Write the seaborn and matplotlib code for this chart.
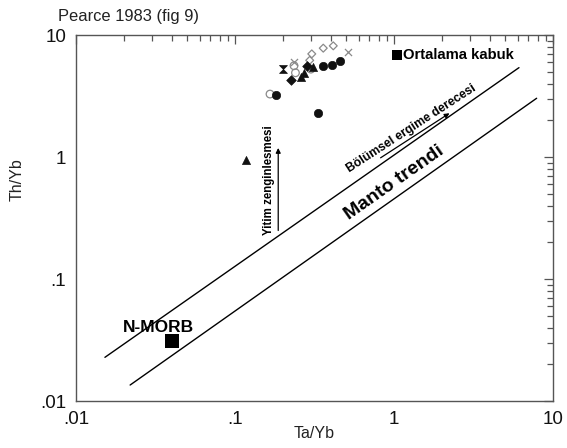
import matplotlib
matplotlib.use("Agg")
import matplotlib.pyplot as plt
import seaborn as sns
import numpy as np
from matplotlib.ticker import FixedLocator, FixedFormatter, LogLocator, NullFormatter

# ---------------- data ----------------
tick_values = [0.01, 0.1, 1, 10]
tick_labels = [".01", ".1", "1", "10"]

filled_circle_x = [0.181, 0.334, 0.357, 0.405, 0.46]
filled_circle_y = [3.2, 2.28, 5.6, 5.7, 6.1]

open_circle_x = [0.166, 0.235, 0.30, 0.24]
open_circle_y = [3.28, 5.6, 5.25, 4.9]

open_diamond_x = [0.304, 0.359, 0.415, 0.295]
open_diamond_y = [7.0, 7.8, 8.15, 6.2]

cross_x = [0.235, 0.516]
cross_y = [6.05, 7.3]

filled_triangle_x = [0.117, 0.259, 0.273, 0.31]
filled_triangle_y = [0.94, 4.55, 4.85, 5.5]

filled_diamond_x = [0.224, 0.284]
filled_diamond_y = [4.3, 5.6]

hourglass_x = [0.20]
hourglass_y = [5.3]

nmorb_x = [0.040]
nmorb_y = [0.031]

crust_x = [1.04]
crust_y = [6.85]

upper_line_x = [0.0152, 6.11]
upper_line_y = [0.0228, 5.40]
lower_line_x = [0.0219, 7.89]
lower_line_y = [0.01352, 3.03]

# ---------------- figure ----------------
sns.set_style("white")
plt.rcParams['font.family'] = ['Liberation Sans', 'DejaVu Sans']
plt.rcParams['text.color'] = 'black'

fig = plt.figure(figsize=(5.67, 4.48), dpi=100)
ax = fig.add_axes([76/567, 47/448, 477/567, 366/448])
ax.set_xscale("log")
ax.set_yscale("log")
ax.set_xlim(0.01, 10)
ax.set_ylim(0.01, 10)

# lines
sns.lineplot(x=upper_line_x, y=upper_line_y, ax=ax, color="black", lw=1.0, sort=False)
sns.lineplot(x=lower_line_x, y=lower_line_y, ax=ax, color="black", lw=1.0, sort=False)

# points
blk = "#111111"
gry = "#8a8a8a"
sns.scatterplot(x=filled_circle_x, y=filled_circle_y, ax=ax, marker="o", s=36,
                color=blk, edgecolor=blk, linewidth=0.5, zorder=5)
sns.scatterplot(x=open_circle_x, y=open_circle_y, ax=ax, marker="o", s=30,
                facecolor="none", edgecolor=gry, linewidth=0.9, zorder=4)
sns.scatterplot(x=open_diamond_x, y=open_diamond_y, ax=ax, marker="D", s=16,
                facecolor="none", edgecolor=gry, linewidth=0.9, zorder=4)
sns.scatterplot(x=cross_x, y=cross_y, ax=ax, marker="x", s=26,
                color=gry, linewidth=0.9, zorder=4)
sns.scatterplot(x=filled_triangle_x, y=filled_triangle_y, ax=ax, marker="^", s=34,
                color=blk, edgecolor=blk, linewidth=0.5, zorder=5)
sns.scatterplot(x=filled_diamond_x, y=filled_diamond_y, ax=ax, marker="D", s=24,
                color=blk, edgecolor=blk, linewidth=0.5, zorder=5)
hg = [(-1, 1), (1, 1), (-1, -1), (1, -1), (-1, 1)]
sns.scatterplot(x=hourglass_x, y=hourglass_y, ax=ax, marker=hg, s=32,
                color=blk, edgecolor=blk, linewidth=0.5, zorder=5)
sns.scatterplot(x=nmorb_x, y=nmorb_y, ax=ax, marker="s", s=95,
                color="black", edgecolor="black", linewidth=0, zorder=6)
sns.scatterplot(x=crust_x, y=crust_y, ax=ax, marker="s", s=60,
                color="black", edgecolor="black", linewidth=0, zorder=6)

# annotations
ax.text(0.033, 0.040, "N-MORB", ha="center", va="center", fontsize=12.5,
        fontweight="bold", color="black")
ax.text(1.14, 6.85, "Ortalama kabuk", ha="left", va="center", fontsize=10.7,
        fontweight="bold", color="black")
ax.text(0.164, 0.647, "Yitim zenginlesmesi", ha="center", va="center",
        rotation=90, fontsize=8.3, fontweight="bold", color="black")
ax.annotate("", xy=(0.187, 1.25), xytext=(0.187, 0.237),
            arrowprops=dict(arrowstyle="-|>", color="black", lw=0.9,
                            mutation_scale=7))
ax.text(1.29, 1.72, "Bölümsel ergime derecesi", ha="center", va="center",
        rotation=33, fontsize=8.8, fontweight="bold", rotation_mode="anchor",
        color="black")
ax.annotate("", xy=(2.31, 2.35), xytext=(0.796, 0.957),
            arrowprops=dict(arrowstyle="-|>", color="black", lw=0.9,
                            mutation_scale=7))
ax.text(1.01, 0.612, "Manto trendi", ha="center", va="center",
        rotation=35, fontsize=14, fontweight="bold", rotation_mode="anchor",
        color="black")

# axes styling
for sp in ax.spines.values():
    sp.set_color("#555555")
    sp.set_linewidth(1.0)

for axis in (ax.xaxis, ax.yaxis):
    axis.set_major_locator(FixedLocator(tick_values))
    axis.set_major_formatter(FixedFormatter(tick_labels))
    axis.set_minor_locator(LogLocator(base=10, subs=np.arange(2, 10)))
    axis.set_minor_formatter(NullFormatter())

ax.tick_params(which="both", direction="in", top=True, right=True,
               color="#555555", width=0.9)
ax.tick_params(which="major", length=6.5)
ax.tick_params(which="minor", length=4.5)
ax.tick_params(axis="x", which="major", labelsize=13.5, pad=7, labelcolor="#111111")
ax.tick_params(axis="y", which="major", labelsize=13.5, pad=7, labelcolor="#111111")

ax.set_xlabel("Ta/Yb", fontsize=11.5, color="#222222")
ax.set_ylabel("Th/Yb", fontsize=11.5, color="#222222")
ax.xaxis.set_label_coords(0.5, -0.068)
ax.yaxis.set_label_coords(-0.107, 0.604)

fig.text(58/567, 1 - 17/448, "Pearce 1983 (fig 9)", ha="left", va="center",
         fontsize=11.9, color="#222222")

fig.savefig("out.png", dpi=100, facecolor="white")
